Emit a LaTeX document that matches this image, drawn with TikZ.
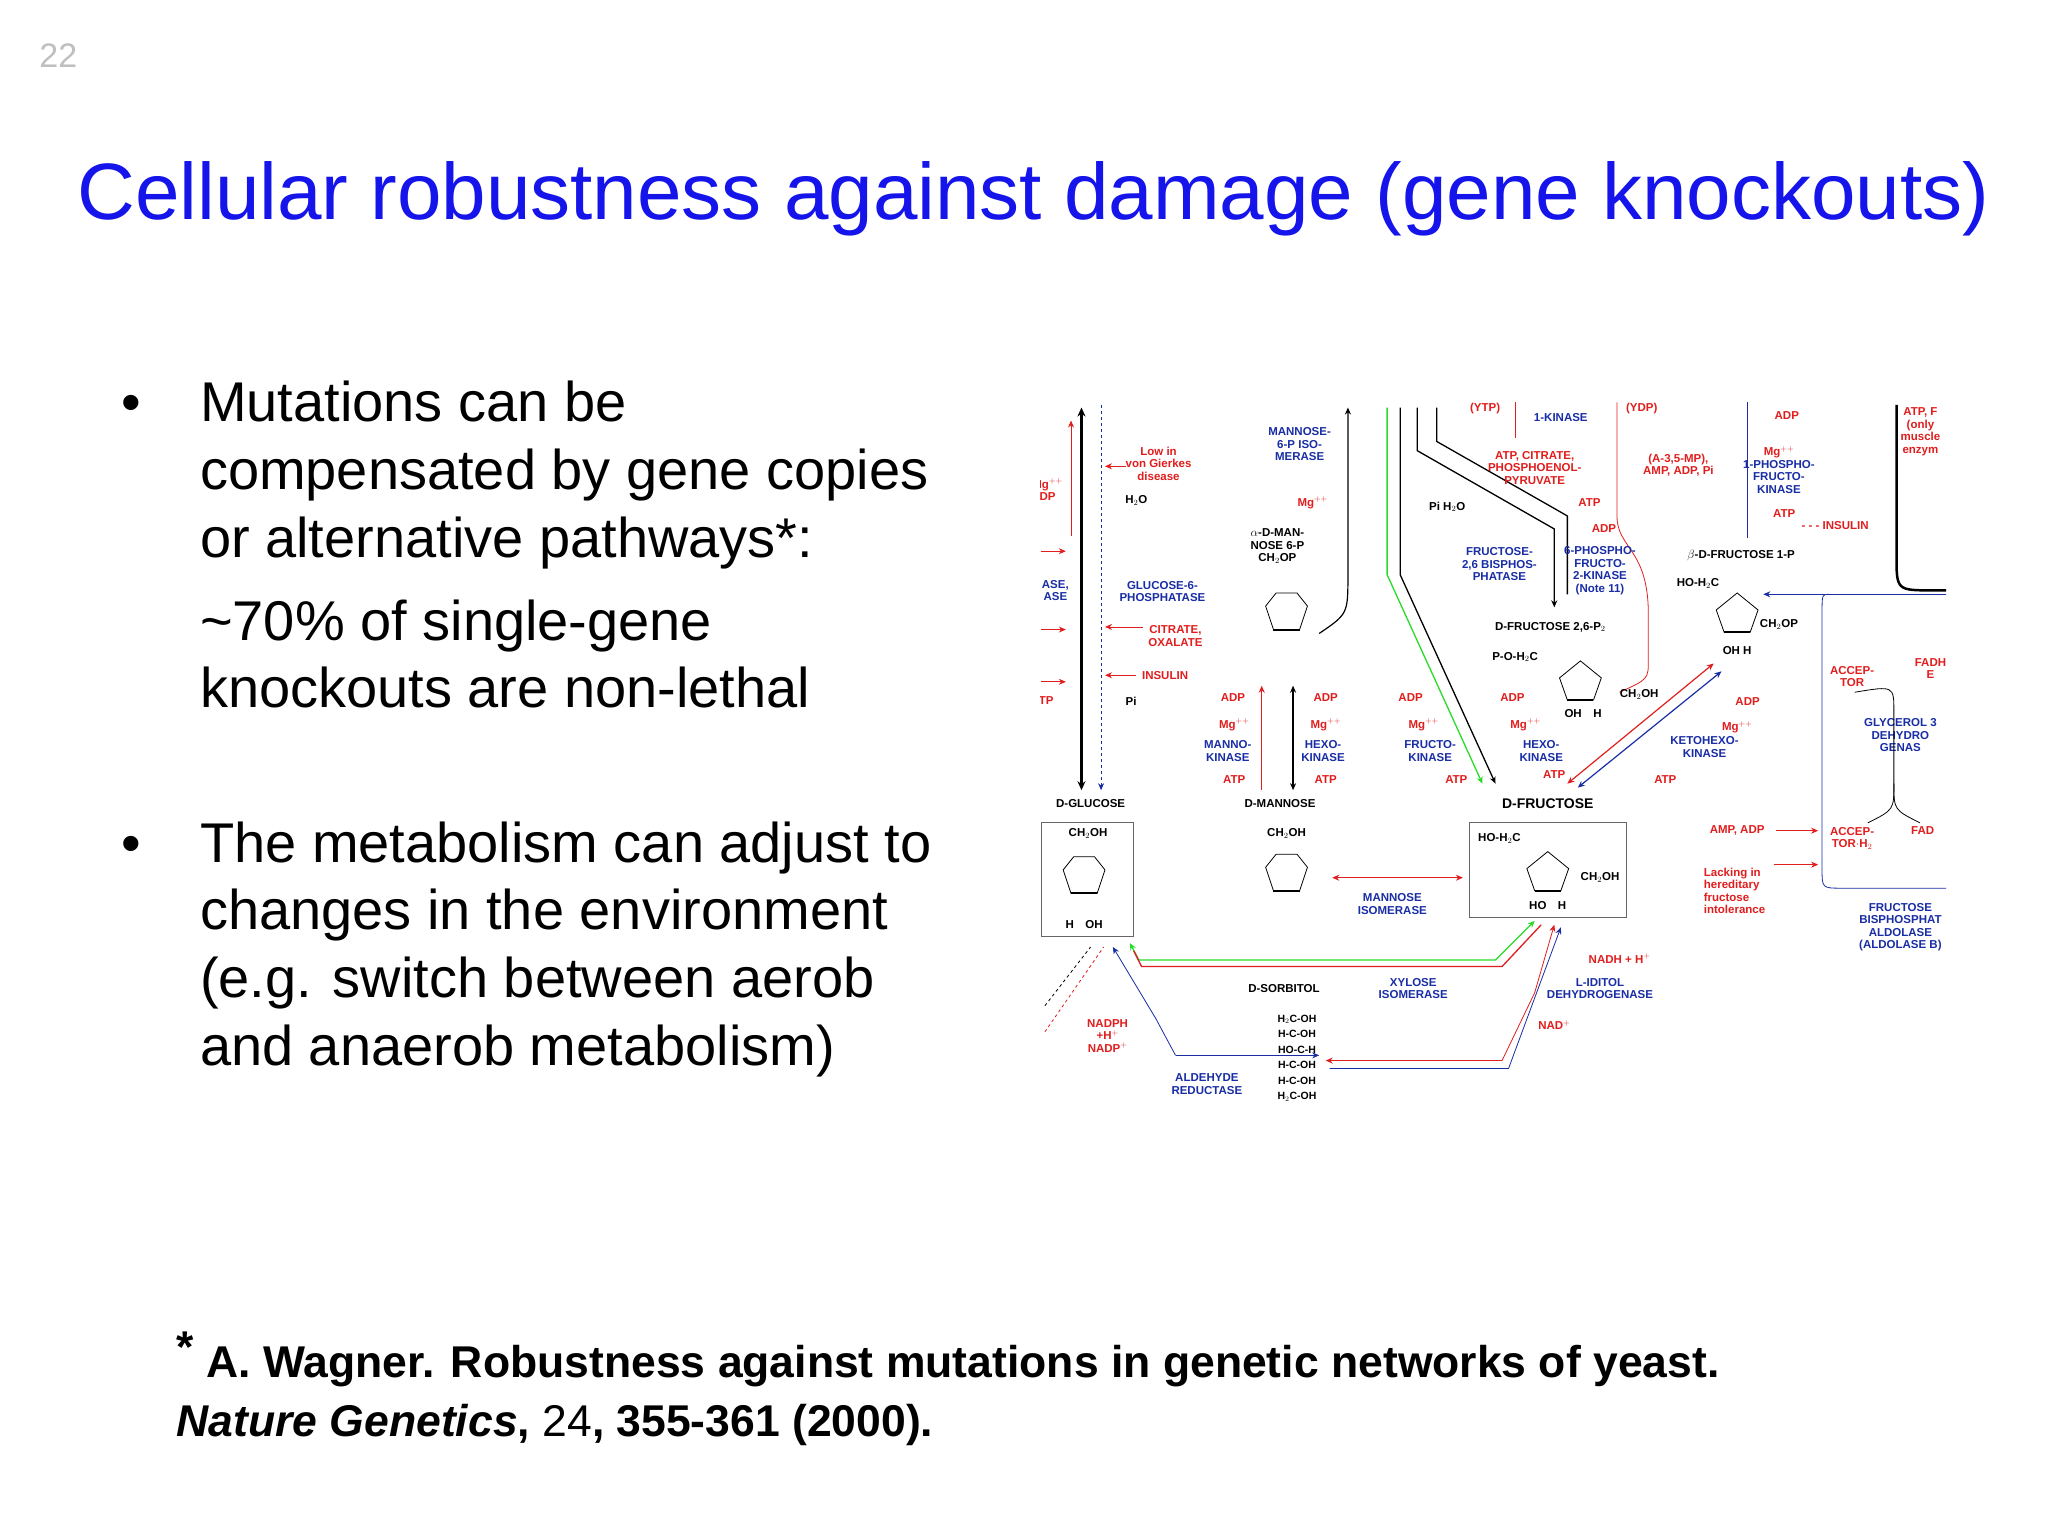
\documentclass[tikz,border=0pt]{standalone}
\usepackage{fontspec}
\setmainfont{Liberation Sans}
\usetikzlibrary{arrows.meta}
\definecolor{ttl}{RGB}{20,20,235}
\definecolor{fr}{RGB}{225,30,30}
\definecolor{fb}{RGB}{25,45,165}
\definecolor{fg}{RGB}{40,220,40}
\newcommand\myhex[2]{\draw[thick] (#1-16,#2-6) -- (#1-8,#2-16) -- (#1+8,#2-16) -- (#1+16,#2-6) -- (#1+10,#2+12) -- (#1-10,#2+12) -- cycle; \draw[line width=2pt] (#1-10,#2+12) -- (#1+10,#2+12);}
\newcommand\mypent[2]{\draw[thick] (#1-16,#2-3) -- (#1,#2-16) -- (#1+16,#2-3) -- (#1+10,#2+14) -- (#1-10,#2+14) -- cycle; \draw[line width=2pt] (#1-10,#2+14) -- (#1+10,#2+14);}
\begin{document}
\begin{tikzpicture}[x=1.30612pt,y=-1.30612pt,
 lab/.style={font=\fontsize{11.5}{12.5}\selectfont\bfseries, inner sep=0, align=center},
 r/.style={lab,text=fr}, b/.style={lab,text=fb}, k/.style={lab,text=black},
 big/.style={font=\fontsize{56}{68}\selectfont, inner sep=0, anchor=base west},
 ar/.style={-{Stealth[length=7,width=6]}}]
\useasboundingbox (0,0) rectangle (1568,1176);
\fill[white] (0,0) rectangle (1568,1176);
\node[anchor=base west, inner sep=0, text=black!25, font=\fontsize{34}{34}\selectfont] (pg) at (30,52) {22};
\node[anchor=base west, inner sep=0, text=ttl, font=\fontsize{80}{90}\selectfont] (title) at (59,168) {Cellular robustness against damage (gene knockouts)};
\node[big] (b1) at (93,323) {•};
\node[big] (l1) at (153,323) {Mutations can be};
\node[big] (l2) at (153,375) {compensated by gene copies};
\node[big] (l3) at (153,427) {or alternative pathways*:};
\node[big] (l4) at (153,490) {\textasciitilde70\% of single-gene};
\node[big] (l5) at (153,542) {knockouts are non-lethal};
\node[big] (b2) at (93,660) {•};
\node[big] (m1) at (153,660) {The metabolism can adjust to};
\node[big] (m2) at (153,712) {changes in the environment};
\node[big] (m3) at (153,764) {(e.g. switch between aerob};
\node[big] (m4) at (153,816) {and anaerob metabolism)};
\node[anchor=base west, inner sep=0, font=\fontsize{44.5}{44}\selectfont\bfseries] (f1) at (135,1055) {\raisebox{0.35em}{*} A. Wagner. Robustness against mutations in genetic networks of yeast.};
\node[anchor=base west, inner sep=0, font=\fontsize{44.5}{44}\selectfont\bfseries] (f2) at (135,1100) {\textit{Nature Genetics}, \mdseries 24\bfseries, 355-361 (2000).};
% ---------- figure -------------
\begin{scope}
\clip (797,305) rectangle (1490,860);
% glucose column
\draw[line width=2.2pt,{Stealth[length=9,width=8]}-{Stealth[length=9,width=8]}] (828,312) -- (828,605);
\draw[fb,thick,dashed,ar] (843,310) -- (843,605);
\draw[fr,thick,ar] (820,410) -- (820,322);
\node[r] (vg) at (887,355) {Low in\\von Gierkes\\disease};
\draw[fr,thick,ar] (862,357) -- (846,357);
\node[k] (h2o) at (870,383) {H$_2$O};
\node[b] (g6p) at (890,453) {GLUCOSE-6-\\PHOSPHATASE};
\node[r] (cit) at (900,487) {CITRATE,\\OXALATE};
\draw[fr,thick,ar] (875,480) -- (846,480);
\node[r] (ins) at (892,517) {INSULIN};
\draw[fr,thick,ar] (870,517) -- (846,517);
\node[k] (pi) at (866,537) {Pi};
\node[r] (lm) at (802,375) {Mg$^{++}$\\DP};
\node[b] (la) at (808,452) {ASE,\\ASE};
\draw[fr,thick,ar] (797,422) -- (816,422);
\draw[fr,thick,ar] (797,482) -- (816,482);
\draw[fr,thick,ar] (797,522) -- (816,522);
\node[r] (ltp) at (801,536) {TP};
% mannose
\node[b] (mpi) at (995,340) {MANNOSE-\\6-P ISO-\\MERASE};
\node[r] (mg1) at (1005,385) {Mg$^{++}$};
\node[k] (m6p) at (978,418) {$\alpha$-D-MAN-\\NOSE 6-P\\CH$_2$OP};
\myhex{985}{470}
\draw[line width=1.2pt,ar] (1010,485) .. controls (1032,470) .. (1032,440) -- (1032,312);
\draw[fr,thick,ar] (966,605) -- (966,525);
\draw[line width=1.4pt,{Stealth[length=7,width=6]}-{Stealth[length=7,width=6]}] (990,525) -- (990,605);
\node[r] (adp1) at (944,534) {ADP};
\node[r] (adp2) at (1015,534) {ADP};
\node[r] (mg2) at (945,555) {Mg$^{++}$};
\node[r] (mg3) at (1015,555) {Mg$^{++}$};
\node[b] (mk) at (940,575) {MANNO-\\KINASE};
\node[b] (hk) at (1013,575) {HEXO-\\KINASE};
\node[r] (atp1) at (945,597) {ATP};
\node[r] (atp2) at (1015,597) {ATP};
\node[k] (dglu) at (835,615) {D-GLUCOSE};
\node[k] (dman) at (980,615) {D-MANNOSE};
\node[k,font=\fontsize{14}{14}\selectfont\bfseries] (dfru) at (1185,615) {D-FRUCTOSE};
% boxes
\draw[thick,black!60] (797,630) rectangle (868,717);
\node[k] (gch) at (833,638) {CH$_2$OH};
\myhex{830}{672}
\node[k] (gh) at (830,708) {H\quad OH};
\node[k] (mch) at (985,638) {CH$_2$OH};
\myhex{985}{670}
\draw[thick,black!60] (1125,630) rectangle (1245,702);
\node[k] (fho) at (1148,642) {HO-H$_2$C};
\mypent{1185}{668}
\node[k] (fch) at (1225,672) {CH$_2$OH};
\node[k] (fbot) at (1185,693) {HO\quad H};
\draw[fr,thick,{Stealth[length=7,width=6]}-{Stealth[length=7,width=6]}] (1020,672) -- (1120,672);
\node[b] (mis) at (1066,692) {MANNOSE\\ISOMERASE};
% lower loop
\draw[fg,line width=1.3pt,{Stealth[length=7,width=6]}-{Stealth[length=7,width=6]}] (865,722) -- (872,735) -- (1145,735) -- (1175,705);
\draw[fr,line width=1.3pt] (868,728) -- (874,740) -- (1150,740) -- (1180,708);
\draw[fb,thick,ar] (900,808) -- (885,780) -- (852,725);
\draw[fb,thick,ar] (900,808) -- (1010,808);
\node[r] (nadph) at (848,793) {NADPH\\+H$^+$\\NADP$^+$};
\node[b] (ar2) at (924,830) {ALDEHYDE\\REDUCTASE};
\node[k] (sorb) at (983,757) {D-SORBITOL};
\node[k,font=\fontsize{10.5}{15.5}\selectfont\bfseries] (sform) at (993,810) {H$_2$C-OH\\H-C-OH\\HO-C-H\\H-C-OH\\H-C-OH\\H$_2$C-OH};
\draw[fr,thick,ar] (1150,812) -- (1175,760) -- (1190,708) ;
\draw[fr,thick,ar] (1150,812) -- (1015,812);
\draw[fb,thick,ar] (1018,818) -- (1155,818) -- (1195,710);
\node[b] (xis) at (1082,757) {XYLOSE\\ISOMERASE};
\node[b] (idh) at (1225,757) {L-IDITOL\\DEHYDROGENASE};
\node[r] (nadh) at (1240,734) {NADH + H$^+$};
\node[r] (nad) at (1190,785) {NAD$^+$};
\draw[fr,thick,dashed] (800,790) -- (845,725);
\draw[black,thick,dashed] (800,770) -- (835,725);
% fructokinase / hexokinase paths
\draw[fg,line width=1.3pt,ar] (1062,312) -- (1062,440) -- (1135,600);
\draw[line width=1.3pt,ar] (1072,312) -- (1072,440) -- (1145,600);
\draw[line width=1.3pt,ar] (1085,312) -- (1085,345) -- (1190,405) -- (1190,465);
\draw[line width=1.3pt] (1100,312) -- (1100,338) -- (1200,395) -- (1200,455);
\node[r] (adp3) at (1080,534) {ADP};
\node[r] (adp4) at (1158,534) {ADP};
\node[r] (mg4) at (1090,555) {Mg$^{++}$};
\node[r] (mg5) at (1168,555) {Mg$^{++}$};
\node[b] (fk) at (1095,575) {FRUCTO-\\KINASE};
\node[b] (hk2) at (1180,575) {HEXO-\\KINASE};
\node[r] (atp3) at (1115,597) {ATP};
\node[r] (atp4) at (1190,593) {ATP};
% top
\node[r] (ytp) at (1137,313) {(YTP)};
\draw[fr,thick] (1160,308) -- (1160,335);
\node[b] (k1) at (1195,320) {1-KINASE};
\node[r] (ydp) at (1257,313) {(YDP)};
\draw[fr,thick] (1238,308) -- (1238,395) .. controls (1238,420) and (1262,420) .. (1262,470) -- (1262,505) .. controls (1262,520) .. (1240,530);
\node[r] (atpc) at (1175,358) {ATP, CITRATE,\\PHOSPHOENOL-\\PYRUVATE};
\node[r] (amp) at (1285,356) {(A-3,5-MP),\\AMP, ADP, Pi};
\node[k] (pih) at (1108,388) {Pi H$_2$O};
\node[r] (atp5) at (1217,385) {ATP};
\node[r] (adp5) at (1228,405) {ADP};
\node[b] (f26b) at (1148,432) {FRUCTOSE-\\2,6 BISPHOS-\\PHATASE};
\node[b] (pfk2) at (1225,437) {6-PHOSPHO-\\FRUCTO-\\2-KINASE\\(Note 11)};
\node[k] (f26) at (1187,480) {D-FRUCTOSE 2,6-P$_2$};
\node[k] (poh) at (1160,503) {P-O-H$_2$C};
\mypent{1210}{522}
\node[k] (fch2) at (1255,532) {CH$_2$OH};
\node[k] (fohh) at (1212,546) {OH\quad H};
% PFK1
\draw[fb,thick] (1338,308) -- (1338,412);
\node[r] (adp6) at (1368,318) {ADP};
\node[b] (pfk1) at (1362,360) {{\color{fr}Mg$^{++}$}\\1-PHOSPHO-\\FRUCTO-\\KINASE};
\node[r] (atp6) at (1366,393) {ATP};
\node[r] (ins2) at (1405,402) {- - - INSULIN};
% fructose-1-P
\node[k] (bf1p) at (1333,425) {$\beta$-D-FRUCTOSE 1-P};
\node[k] (bfho) at (1300,447) {HO-H$_2$C};
\mypent{1330}{470}
\node[k] (bfch) at (1362,478) {CH$_2$OP};
\node[k] (bfoh) at (1330,498) {OH H};
\draw[fr,line width=1.2pt,{Stealth[length=7,width=6]}-{Stealth[length=7,width=6]}] (1200,600) -- (1312,508);
\draw[fb,line width=1.2pt,{Stealth[length=7,width=6]}-{Stealth[length=7,width=6]}] (1208,603) -- (1318,514);
\node[r] (adp7) at (1338,537) {ADP};
\node[r] (mg6) at (1330,557) {Mg$^{++}$};
\node[b] (khk) at (1305,572) {KETOHEXO-\\KINASE};
\node[r] (atp7) at (1275,597) {ATP};
% right
\draw[line width=2.5pt] (1452,310) -- (1452,425) .. controls (1452,452) .. (1480,452) -- (1495,452);
\draw[fb,thick,ar] (1495,455) -- (1350,455);
\draw[fb,thick] (1400,455) .. controls (1395,455) .. (1395,470) -- (1395,665) .. controls (1395,680) .. (1410,680) -- (1495,680);
\node[r,anchor=north west] (atpf) at (1455,312) {ATP, F\\(only\\muscle\\enzym};
\node[r] (acc1) at (1418,518) {ACCEP-\\TOR};
\node[r] (fadh) at (1478,512) {FADH\\E};
\node[b] (g3d) at (1455,563) {GLYCEROL 3\\DEHYDRO\\GENAS};
\draw[thick] (1420,530) .. controls (1450,525) .. (1450,545) -- (1450,600) .. controls (1450,620) .. (1430,630);
\draw[thick] (1450,600) .. controls (1450,620) .. (1470,630);
\node[r] (acc2) at (1418,642) {ACCEP-\\TOR$\cdot$H$_2$};
\node[r] (fad) at (1472,636) {FAD};
\node[r] (ampadp) at (1330,636) {AMP, ADP};
\draw[fr,thick,ar] (1360,636) -- (1392,636);
\node[r,align=left] (lack) at (1328,682) {Lacking in\\hereditary\\fructose\\intolerance};
\draw[fr,thick,ar] (1358,662) -- (1392,662);
\node[b] (ald) at (1455,710) {FRUCTOSE\\BISPHOSPHAT\\ALDOLASE\\(ALDOLASE B)};
\end{scope}
\end{tikzpicture}
\end{document}
